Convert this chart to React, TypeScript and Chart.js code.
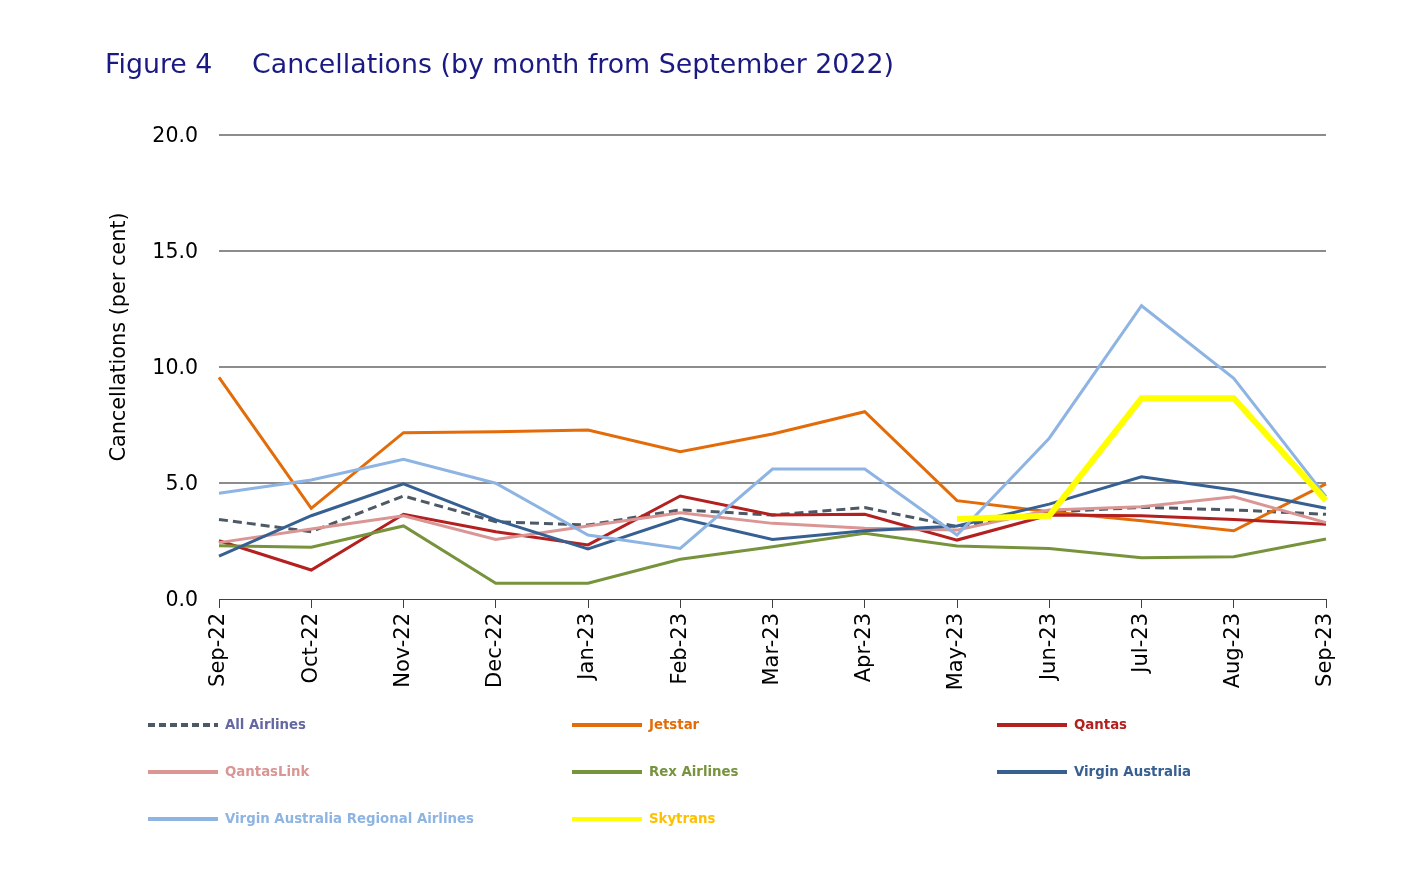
import React, { useEffect, useRef } from "react";
import { Chart, registerables } from "chart.js";

Chart.register(...registerables);

const months = ["Sep-22", "Oct-22", "Nov-22", "Dec-22", "Jan-23", "Feb-23", "Mar-23", "Apr-23", "May-23", "Jun-23", "Jul-23", "Aug-23", "Sep-23"];
const allAirlines = [3.43, 2.9, 4.44, 3.33, 3.19, 3.84, 3.62, 3.94, 3.12, 3.74, 3.95, 3.84, 3.65];
const jetstar = [9.55, 3.91, 7.17, 7.21, 7.28, 6.35, 7.11, 8.07, 4.24, 3.76, 3.37, 2.94, 4.96];
const qantas = [2.51, 1.25, 3.65, 2.9, 2.33, 4.44, 3.62, 3.65, 2.54, 3.62, 3.59, 3.43, 3.22];
const qantasLink = [2.43, 3.02, 3.59, 2.57, 3.15, 3.72, 3.26, 3.05, 2.97, 3.84, 3.98, 4.41, 3.29];
const rexAirlines = [2.3, 2.23, 3.15, 0.68, 0.68, 1.71, 2.25, 2.83, 2.28, 2.18, 1.78, 1.82, 2.59];
const virginAustralia = [1.85, 3.59, 4.96, 3.41, 2.16, 3.48, 2.57, 2.94, 3.15, 4.09, 5.27, 4.7, 3.91];
const virginRegional = [4.56, 5.13, 6.02, 4.99, 2.76, 2.18, 5.6, 5.6, 2.76, 6.93, 12.64, 9.51, 4.41];
const skytrans = [null, null, null, null, null, null, null, null, 3.45, 3.59, 8.65, 8.65, 4.24];
const yTicks = [0, 5, 10, 15, 20];

const seriesNames = ["All Airlines", "Jetstar", "Qantas", "QantasLink", "Rex Airlines", "Virgin Australia", "Virgin Australia Regional Airlines", "Skytrans"];
const seriesValues = [allAirlines, jetstar, qantas, qantasLink, rexAirlines, virginAustralia, virginRegional, skytrans];
const lineColors = ["#4E5966", "#E36C0A", "#B3201F", "#D99694", "#77933C", "#376092", "#8DB4E2", "#FFFF00"];
const textColors = ["#6468A0", "#E36C0A", "#B3201F", "#D99694", "#77933C", "#376092", "#8DB4E2", "#FFC000"];
const lineWidths = [3, 3, 3, 3, 3, 3, 3, 6];

const SANS = "'DejaVu Sans', Verdana, sans-serif";
const COND = "'DejaVu Sans Condensed', 'DejaVu Sans', sans-serif";

const decorPlugin = {
  id: "decor",
  afterDraw(chart: any) {
    const ctx = chart.ctx as CanvasRenderingContext2D;
    ctx.save();
    // Title
    ctx.fillStyle = "#1A1A82";
    ctx.font = `26.8px ${SANS}`;
    ctx.textBaseline = "alphabetic";
    ctx.textAlign = "left";
    ctx.fillText("Figure 4", 105, 73);
    ctx.fillText("Cancellations (by month from September 2022)", 252, 73);
    // Y axis title
    ctx.save();
    ctx.translate(120, 337);
    ctx.rotate(-Math.PI / 2);
    ctx.fillStyle = "#000000";
    ctx.font = `20.8px ${SANS}`;
    ctx.textAlign = "center";
    ctx.textBaseline = "middle";
    ctx.fillText("Cancellations (per cent)", 0, 0);
    ctx.restore();
    // Legend
    const cols = [148, 572, 997];
    const rows = [725, 772, 819];
    chart.data.datasets.forEach((ds: any, i: number) => {
      const x = cols[i % 3];
      const y = rows[Math.floor(i / 3)];
      ctx.beginPath();
      ctx.strokeStyle = ds.borderColor;
      ctx.lineWidth = 4;
      ctx.setLineDash(ds.borderDash && ds.borderDash.length ? [7, 4] : []);
      ctx.moveTo(x, y);
      ctx.lineTo(x + 70, y);
      ctx.stroke();
      ctx.setLineDash([]);
      ctx.fillStyle = textColors[i];
      ctx.font = `bold 14.8px ${COND}`;
      ctx.textAlign = "left";
      ctx.textBaseline = "middle";
      ctx.fillText(ds.label, x + 77, y);
    });
    ctx.restore();
  },
};

export default function App() {
  const canvasRef = useRef<HTMLCanvasElement | null>(null);

  useEffect(() => {
    document.body.style.margin = "0";
    const canvas = canvasRef.current;
    if (!canvas) return;
    const n = seriesNames.length;
    const chart = new Chart(canvas, {
      type: "line",
      data: {
        labels: months,
        datasets: seriesNames.map((name, i) => ({
          label: name,
          data: seriesValues[i],
          borderColor: lineColors[i],
          backgroundColor: lineColors[i],
          borderWidth: lineWidths[i],
          borderDash: i === 0 ? [9, 5] : [],
          pointRadius: 0,
          pointHoverRadius: 0,
          tension: 0,
          fill: false,
          spanGaps: false,
          order: n - 1 - i,
        })),
      },
      options: {
        animation: false,
        responsive: false,
        layout: { padding: { left: 0, right: 98, top: 135, bottom: 0 } },
        plugins: {
          legend: { display: false },
          tooltip: { enabled: false },
          title: { display: false },
        },
        scales: {
          x: {
            offset: false,
            afterFit: (scale: any) => {
              scale.height = 287;
            },
            grid: {
              drawOnChartArea: false,
              drawTicks: true,
              tickLength: 9,
              color: "#404040",
              lineWidth: 1,
            },
            border: { display: true, color: "#404040", width: 1 },
            ticks: {
              minRotation: 90,
              maxRotation: 90,
              autoSkip: false,
              padding: 5,
              color: "#000000",
              font: { family: SANS, size: 21 },
            },
          },
          y: {
            min: 0,
            max: 20,
            afterFit: (scale: any) => {
              scale.width = 219;
            },
            afterBuildTicks: (scale: any) => {
              scale.ticks = yTicks.map((v) => ({ value: v }));
            },
            grid: {
              drawTicks: false,
              color: (c: any) => (c.tick && c.tick.value === 0 ? "rgba(0,0,0,0)" : "#8C8C8C"),
              lineWidth: 2,
            },
            border: { display: false },
            ticks: {
              padding: 21,
              labelOffset: 2,
              color: "#000000",
              font: { family: SANS, size: 20.5 },
              callback: (v: any) => Number(v).toFixed(1),
            },
          },
        },
      },
      plugins: [decorPlugin],
    });
    return () => chart.destroy();
  }, []);

  return (
    <div style={{ width: 1424, height: 886, background: "#ffffff" }}>
      <canvas ref={canvasRef} width={1424} height={886} style={{ display: "block" }} />
    </div>
  );
}
